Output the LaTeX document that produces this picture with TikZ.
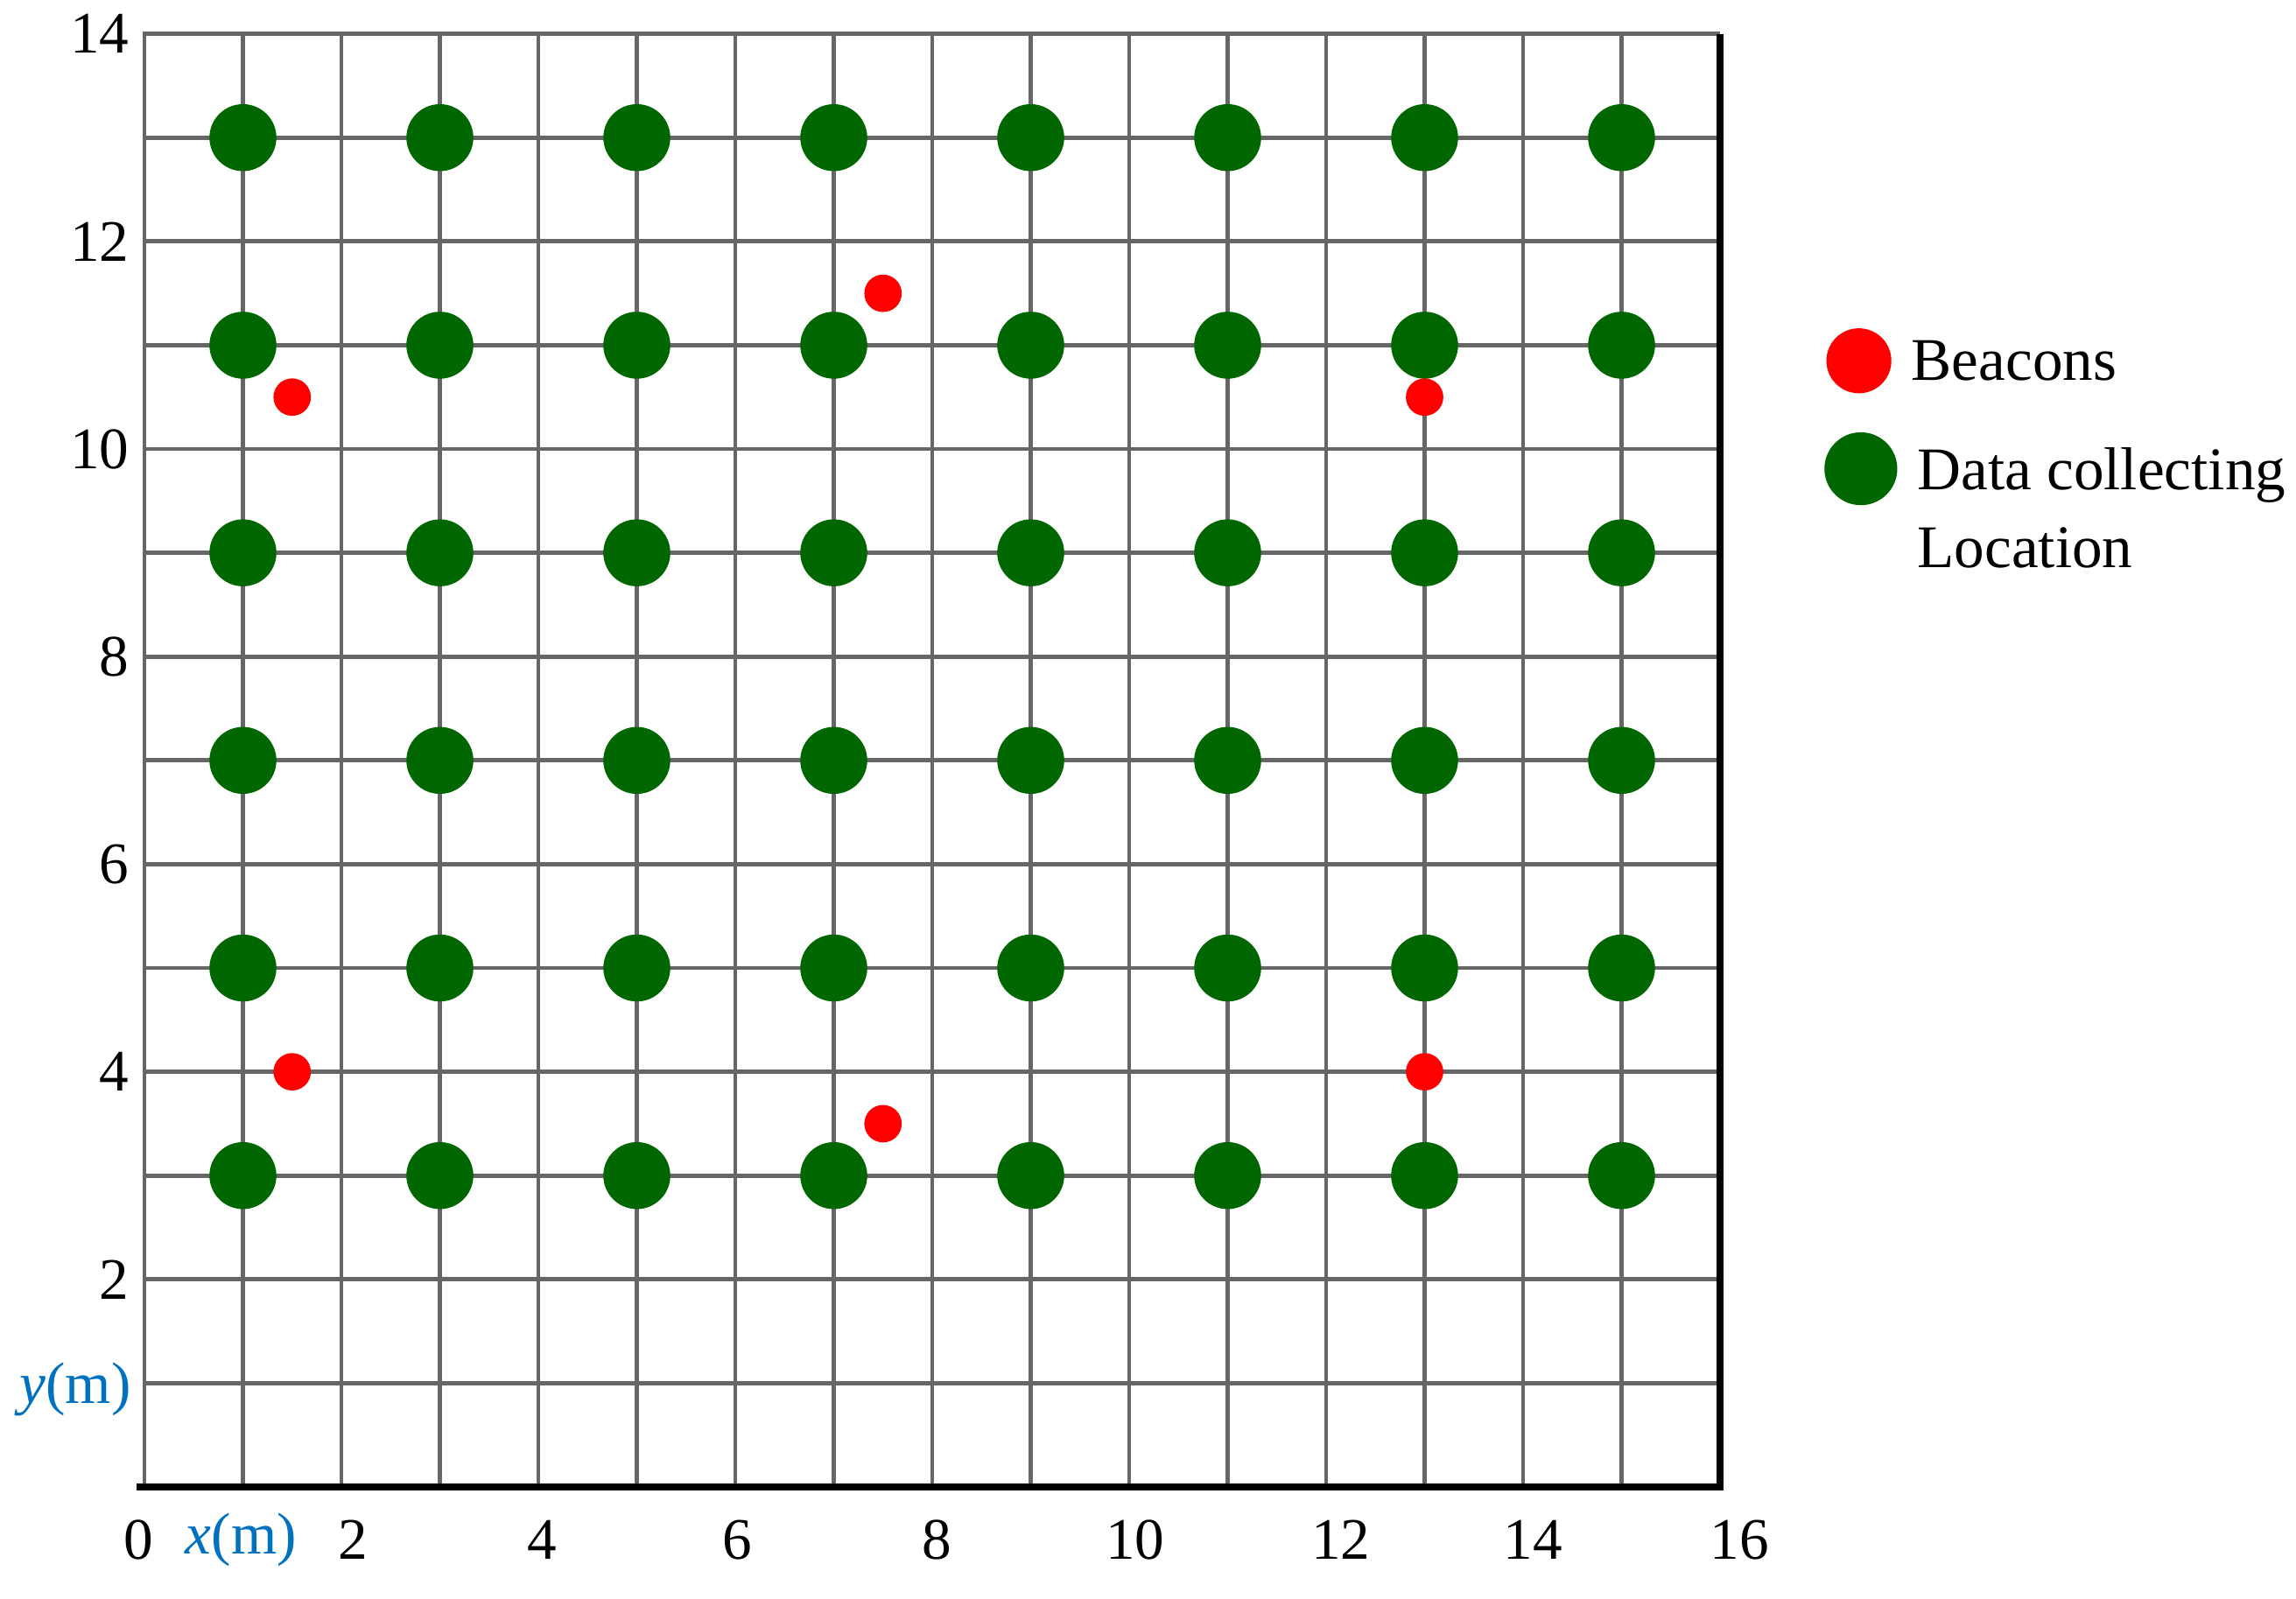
\documentclass[tikz,border=0pt]{standalone}
\usepackage{fontspec}
\setmainfont{Liberation Serif}
\usetikzlibrary{positioning}
\definecolor{dotgreen}{RGB}{0,102,0}
\definecolor{beaconred}{RGB}{255,0,0}
\definecolor{axisblue}{RGB}{0,112,192}
\tikzstyle{gridline} = [draw=black!60, line width=1.2pt]
\tikzstyle{axisline} = [draw=black, line width=2.2pt]
\tikzstyle{collect} = [circle, fill=dotgreen, minimum size=0.68cm, inner sep=0pt]
\tikzstyle{beacon} = [circle, fill=beaconred, minimum size=0.38cm, inner sep=0pt]
\tikzstyle{ticklabel} = [font=\fontsize{17}{20}\selectfont, inner sep=0pt]
\tikzstyle{axislabel} = [font=\fontsize{17}{20}\selectfont, text=axisblue, inner sep=0pt]
\tikzstyle{legendtext} = [font=\fontsize{17.5}{22.5}\selectfont, align=left, inner sep=0pt]

\begin{document}
\begin{tikzpicture}[x=1cm, y=1.0542cm]
	\useasboundingbox (-1.467,-1.071) rectangle (21.849,14.326);
	% grid
	\foreach \i in {1,...,15}
		\draw[gridline] (\i,0) -- (\i,14);
	\foreach \j in {1,...,13}
		\draw[gridline] (0,\j) -- (16,\j);
	\draw[gridline] (0,0) -- (0,14) -- (16,14);
	\draw[axisline] (-0.08,0) -- (16,0) -- (16,14);
	% tick labels
	\foreach \v in {2,4,...,14}
		\node[ticklabel, anchor=east] (ytick\v) at (-0.15,\v) {\v};
	\foreach \v/\p in {0/-0.06, 2/2.12, 4/4.04, 6/6.02, 8/8.05, 10/10.06, 12/12.15, 14/14.1, 16/16.2}
		\node[ticklabel] (xtick\v) at (\p,-0.51) {\v};
	\node[axislabel] (xname) at (0.98,-0.51) {\textit{x}(m)};
	\node[axislabel, anchor=east] (yname) at (-0.13,0.94) {\textit{y}(m)};
	% data collecting locations
	\foreach \i in {1,3,...,15}
		\foreach \j in {3,5,...,13}
			\node[collect] (dc-\i-\j) at (\i,\j) {};
	% beacons
	\foreach \n/\px/\py in {1/1.5/10.5, 2/7.5/11.5, 3/13/10.5, 4/1.5/4, 5/7.5/3.5, 6/13/4}
		\node[beacon] (beacon\n) at (\px,\py) {};
	% legend
	\node[beacon, minimum size=0.66cm] (legbeacon) at (17.41,10.85) {};
	\node[legendtext, right=0.19cm of legbeacon] (legbeacontext) {Beacons};
	\node[collect, minimum size=0.74cm] (legdc) at (17.43,9.81) {};
	\node[legendtext, right=0.19cm of legdc, anchor=north west, yshift=0.22cm] (legdctext) {Data collecting\\Location};
\end{tikzpicture}
\end{document}
